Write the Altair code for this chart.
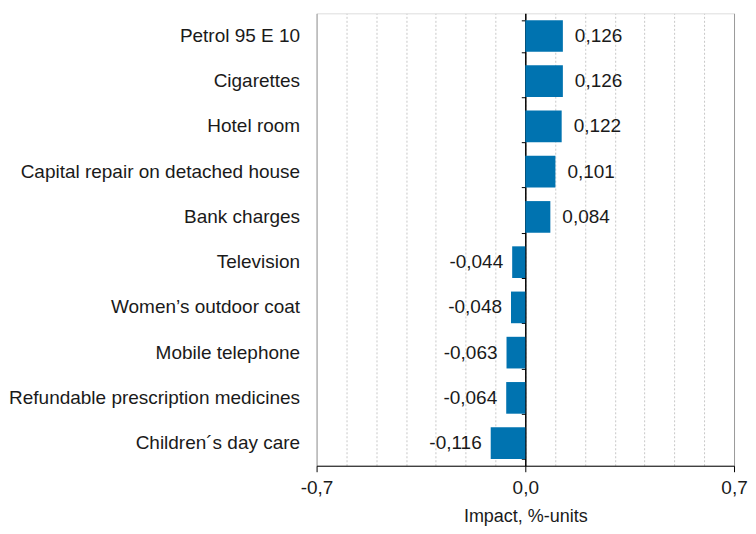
import altair as alt
import pandas as pd

categories = [
    "Petrol 95 E 10",
    "Cigarettes",
    "Hotel room",
    "Capital repair on detached house",
    "Bank charges",
    "Television",
    "Women’s outdoor coat",
    "Mobile telephone",
    "Refundable prescription medicines",
    "Children´s day care",
]
values = [0.126, 0.126, 0.122, 0.101, 0.084, -0.044, -0.048, -0.063, -0.064, -0.116]
grid_values = [-0.7, -0.6, -0.5, -0.4, -0.3, -0.2, -0.1, 0.0, 0.1, 0.2, 0.3, 0.4, 0.5, 0.6, 0.7]

df = pd.DataFrame({"item": categories, "value": values})

FONT = "Liberation Sans"
TXT = "#1a1a1a"
W = 418

major = "abs(abs(datum.value) - 0.7) < 0.01 || abs(datum.value) < 0.01"

x_axis = alt.Axis(
    values=grid_values,
    labelExpr=f"({major}) ? ((datum.value < -0.001 ? '-' : '') + replace(format(abs(datum.value), '.1f'), '.', ',')) : ''",
    title="Impact, %-units",
    titleFont=FONT, titleFontSize=18, titleFontWeight="normal", titleColor=TXT,
    titlePadding=10,
    labelFont=FONT, labelFontSize=19, labelColor=TXT, labelPadding=7,
    labelFlush=False, labelOverlap=False,
    domainColor="#000000", domainWidth=1,
    tickColor="#000000", tickSize=6,
    tickOpacity={"condition": {"test": major, "value": 1}, "value": 0},
    grid=True,
    gridColor={"condition": {"test": "abs(datum.value) > 0.65", "value": "#9a9a9a"}, "value": "#c8c8c8"},
    gridDash={"condition": {"test": "abs(datum.value) > 0.65", "value": []}, "value": [2, 2]},
    gridWidth=1,
)

x_enc = alt.X("value:Q", scale=alt.Scale(domain=[-0.7, 0.7], nice=False, zero=False), axis=x_axis)
y_scale = alt.Scale(paddingInner=0.3, paddingOuter=0.15)

bars = alt.Chart(df).mark_bar(color="#0073B0").encode(
    x=x_enc,
    x2=alt.datum(0),
    y=alt.Y(
        "item:N", sort=categories, scale=y_scale,
        axis=alt.Axis(
            title=None, domain=False, ticks=False, tickSize=0, grid=False,
            labelFont=FONT, labelFontSize=19, labelColor=TXT, labelPadding=17, labelLimit=400,
        ),
    ),
)

pos_labels = alt.Chart(df).transform_filter("datum.value >= 0").transform_calculate(
    lab="replace(format(abs(datum.value), '.3f'), '.', ',')"
).mark_text(align="left", baseline="middle", dx=12, font=FONT, fontSize=19, color=TXT).encode(
    x=x_enc,
    y=alt.Y(
        "item:N", sort=categories, scale=y_scale,
        axis=alt.Axis(
            title=None, orient="left", offset=-W / 2, labels=False, grid=False,
            domain=True, domainColor="#000000", domainWidth=1.5,
            ticks=True, tickBand="extent", tickColor="#000000", tickSize=4,
        ),
    ),
    text="lab:N",
)

neg_labels = alt.Chart(df).transform_filter("datum.value < 0").transform_calculate(
    lab="'-' + replace(format(abs(datum.value), '.3f'), '.', ',')"
).mark_text(align="right", baseline="middle", dx=-9, font=FONT, fontSize=19, color=TXT).encode(
    x=x_enc,
    y=alt.Y("item:N", sort=categories, scale=y_scale, axis=None),
    text="lab:N",
)

chart = (
    alt.layer(bars, pos_labels, neg_labels)
    .resolve_axis(y="independent")
    .properties(width=W, height=453, padding={"left": 0, "top": 5, "right": 0, "bottom": 0})
    .configure_view(stroke=None)
    .configure(background="white")
)

chart.save("out.html", embed_options={"renderer": "svg", "actions": False})
